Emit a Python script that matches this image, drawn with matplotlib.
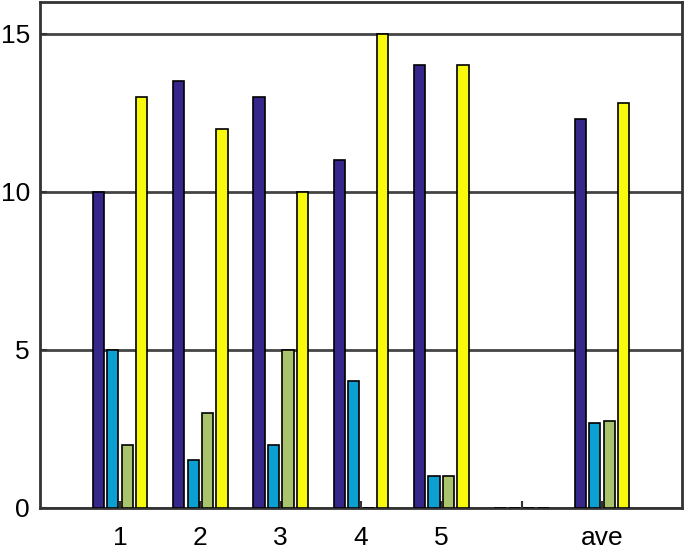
import matplotlib.pyplot as plt
import numpy as np

plt.rcParams['font.family'] = ['Liberation Sans', 'DejaVu Sans']

groups = ['1', '2', '3', '4', '5', '', 'ave']
navy = [10, 13.5, 13, 11, 14, 0, 12.3]
blue = [5, 1.5, 2, 4, 1, 0, 2.7]
green = [2, 3, 5, 0, 1, 0, 2.75]
yellow = [13, 12, 10, 15, 14, 0, 12.8]

series = [navy, blue, green, yellow]
colors = ['#35288a', '#0b9fd2', '#a9c46c', '#f8fa0d']

fig = plt.figure(figsize=(6.85, 5.52), dpi=100)
ax = fig.add_axes([0.058, 0.08, 0.938, 0.916])

x = np.arange(1, len(groups) + 1)
offsets = [-0.27, -0.09, 0.09, 0.27]
for vals, col, off in zip(series, colors, offsets):
    ax.bar(x + off, vals, width=0.14, color=col, edgecolor='black',
           linewidth=1.2, zorder=3)

ax.set_xlim(0, 8)
ax.set_ylim(0, 16)
ax.set_xticks(x)
ax.set_xticklabels(groups)
ax.set_yticks([0, 5, 10, 15])
ax.tick_params(direction='in', length=5, width=1.5, color='#333333',
               labelsize=19)
ax.tick_params(axis='x', pad=13)
ax.tick_params(axis='y', pad=7)
ax.yaxis.grid(True, color='#444444', linewidth=2)
ax.set_axisbelow(True)
for s in ax.spines.values():
    s.set_color('#333333')
    s.set_linewidth(2)

fig.savefig('out.png')
